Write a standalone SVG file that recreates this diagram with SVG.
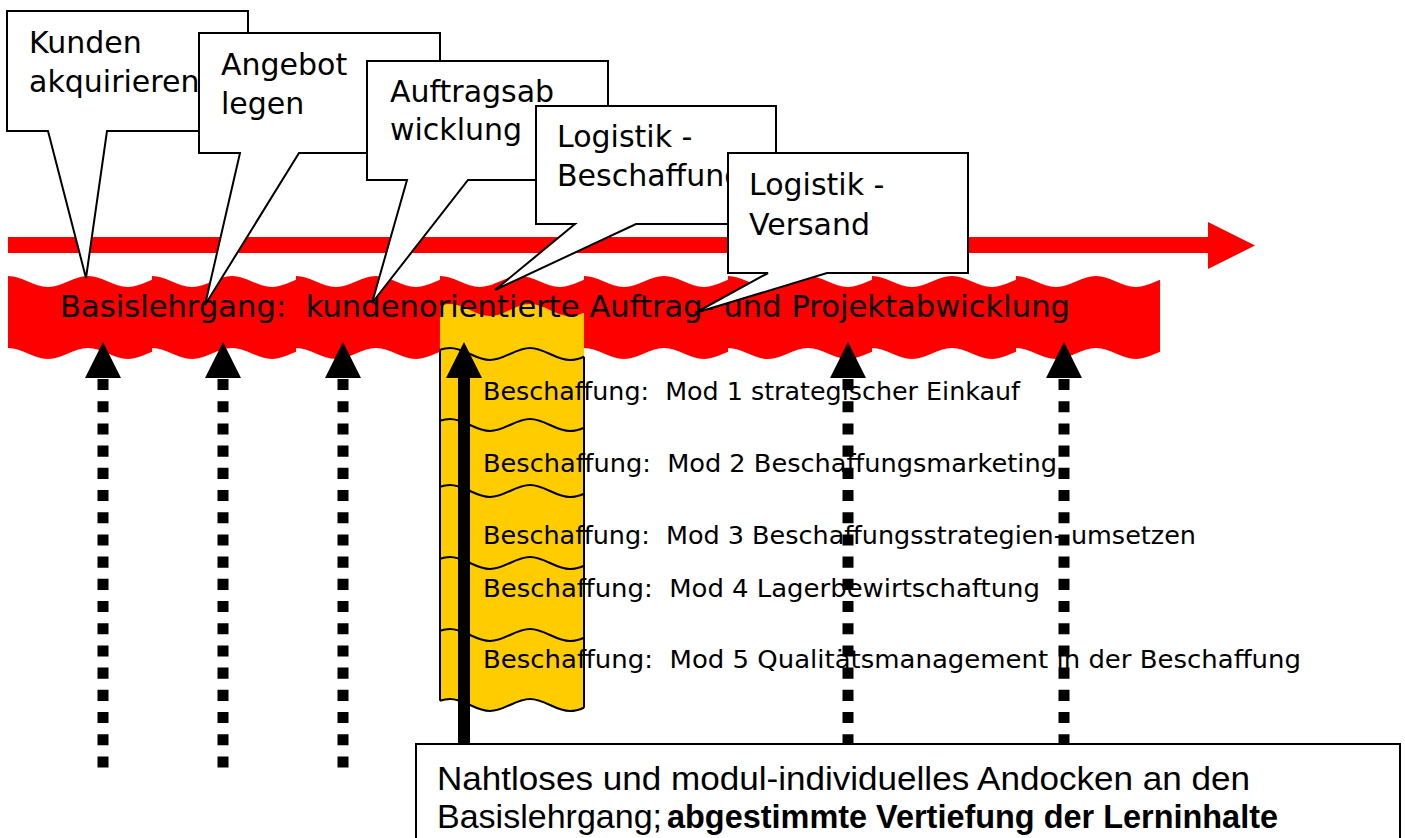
<svg xmlns="http://www.w3.org/2000/svg" width="1405" height="838" viewBox="0 0 1405 838">
  <style>
    .band { fill: #FF0000; }
    .lbl { font-family: "DejaVu Sans", sans-serif; fill: #000; white-space: pre; }
    .call { fill: #FFFFFF; stroke: #000; stroke-width: 2; stroke-linejoin: miter; }
    .callTxt { font-size: 30px; }
    .modTxt { font-size: 25px; }
    .modLine { fill: none; stroke: #000; stroke-width: 2; }
    .dot { stroke: #000; stroke-width: 11; stroke-dasharray: 11.1 11.1; }
    .head { fill: #000; }
    .note { font-family: "Liberation Sans", Arial, sans-serif; font-size: 34px; fill: #000; }
  </style>
  <defs>
    <!-- one wave tile of the course band -->
    <path id="bandSeg" d="M0,276 C14.5,276 25.5,287 40,287 C54.5,287 65.5,276 80,276 C94.5,276 105.5,287 120,287 C128,287 136,283.1 144,279.8 L144,351.8 C136,355.1 128,359 120,359 C105.5,359 94.5,348 80,348 C65.5,348 54.5,359 40,359 C25.5,359 14.5,348 0,348 Z"/>
    <!-- wavy divider of the module stack -->
    <path id="modWave" d="M440,-4.24 C443.33,-5.35 446.67,-6 450,-6 C464.5,-6 475.5,6 490,6 C504.5,6 515.5,-6 530,-6 C544.5,-6 555.5,6 570,6 C574.67,6 579.33,4.68 584,2.72"/>
  </defs>

  <!-- time arrow -->
  <g id="timeArrow">
    <rect x="8" y="237" width="1201" height="16" fill="#FF0000"/>
    <polygon points="1208,222 1255,245.5 1208,269" fill="#FF0000"/>
  </g>

  <!-- base course band -->
  <g id="baseCourse">
    <use href="#bandSeg" class="band" x="8"/>
    <use href="#bandSeg" class="band" x="152"/>
    <use href="#bandSeg" class="band" x="296"/>
    <use href="#bandSeg" class="band" x="440"/>
    <use href="#bandSeg" class="band" x="584"/>
    <use href="#bandSeg" class="band" x="728"/>
    <use href="#bandSeg" class="band" x="872"/>
    <use href="#bandSeg" class="band" x="1016"/>
  </g>

  <!-- procurement module stack -->
  <g id="moduleStack">
    <path d="M440,305.76 C443.33,304.65 446.67,304 450,304 C464.5,304 475.5,316 490,316 C504.5,316 515.5,304 530,304 C544.5,304 555.5,316 570,316 C574.67,316 579.33,314.68 584,312.72 L584,707.72 C579.33,709.68 574.67,711 570,711 C555.5,711 544.5,699 530,699 C515.5,699 504.5,711 490,711 C475.5,711 464.5,699 450,699 C446.67,699 443.33,699.65 440,700.76 Z" fill="#FFCC00"/>
    <path class="modLine" d="M440,349.76 V700.76 M584,356.72 V707.72"/>
    <use href="#modWave" class="modLine" y="354"/>
    <use href="#modWave" class="modLine" y="425"/>
    <use href="#modWave" class="modLine" y="491"/>
    <use href="#modWave" class="modLine" y="563"/>
    <use href="#modWave" class="modLine" y="635"/>
    <use href="#modWave" class="modLine" y="705"/>
  </g>

  <g id="baseCourseLabel">
    <text class="lbl" x="60" y="317" font-size="30" textLength="1010" lengthAdjust="spacingAndGlyphs">Basislehrgang:  kundenorientierte Auftrag- und Projektabwicklung</text>
  </g>

  <g id="moduleLabels">
    <text class="lbl modTxt" x="483" y="400" textLength="537" lengthAdjust="spacingAndGlyphs">Beschaffung:  Mod 1 strategischer Einkauf</text>
    <text class="lbl modTxt" x="483" y="472" textLength="574" lengthAdjust="spacingAndGlyphs">Beschaffung:  Mod 2 Beschaffungsmarketing</text>
    <text class="lbl modTxt" x="483" y="544" textLength="713" lengthAdjust="spacingAndGlyphs">Beschaffung:  Mod 3 Beschaffungsstrategien- umsetzen</text>
    <text class="lbl modTxt" x="483" y="597" textLength="557" lengthAdjust="spacingAndGlyphs">Beschaffung:  Mod 4 Lagerbewirtschaftung</text>
    <text class="lbl modTxt" x="483" y="668" textLength="818" lengthAdjust="spacingAndGlyphs">Beschaffung:  Mod 5 Qualitätsmanagement in der Beschaffung</text>
  </g>

  <!-- docking arrows -->
  <g id="connectors">
    <line class="dot" x1="103" y1="379" x2="103" y2="772"/>
    <polygon class="head" points="103,342 121,378 85,378"/>
    <line class="dot" x1="223" y1="379" x2="223" y2="772"/>
    <polygon class="head" points="223,342 241,378 205,378"/>
    <line class="dot" x1="343" y1="379" x2="343" y2="772"/>
    <polygon class="head" points="343,342 361,378 325,378"/>
    <line class="dot" x1="848" y1="379" x2="848" y2="772"/>
    <polygon class="head" points="848,342 866,378 830,378"/>
    <line class="dot" x1="1064" y1="379" x2="1064" y2="772"/>
    <polygon class="head" points="1064,342 1082,378 1046,378"/>
    <line x1="464" y1="376" x2="464" y2="746" stroke="#000" stroke-width="12"/>
    <polygon class="head" points="464,342 482,378 446,378"/>
  </g>

  <!-- phase callouts -->
  <g id="callKunden">
    <path class="call" d="M7,11 H248 V131 H107 L86,278 L48,131 H7 Z"/>
    <text class="lbl callTxt" x="29" y="53">Kunden</text>
    <text class="lbl callTxt" x="29" y="92">akquirieren</text>
  </g>
  <g id="callAngebot">
    <path class="call" d="M199,33 H440 V153 H299 L205,305 L240,153 H199 Z"/>
    <text class="lbl callTxt" x="221" y="75">Angebot</text>
    <text class="lbl callTxt" x="221" y="114">legen</text>
  </g>
  <g id="callAuftrag">
    <path class="call" d="M367,61 H608 V180 H468 L372,303 L407,180 H367 Z"/>
    <text class="lbl callTxt" x="390" y="102">Auftragsab</text>
    <text class="lbl callTxt" x="390" y="140">wicklung</text>
  </g>
  <g id="callBeschaffung">
    <path class="call" d="M536,106 H776 V224 H636 L495,290 L575,224 H536 Z"/>
    <text class="lbl callTxt" x="557" y="147">Logistik -</text>
    <text class="lbl callTxt" x="557" y="186">Beschaffung</text>
  </g>
  <g id="callVersand">
    <path class="call" d="M728,153 H968 V273 H827 L695,313 L768,273 H728 Z"/>
    <text class="lbl callTxt" x="749" y="195">Logistik -</text>
    <text class="lbl callTxt" x="749" y="235">Versand</text>
  </g>

  <!-- summary box -->
  <g id="summary">
    <rect x="416" y="744" width="984" height="120" fill="#FFFFFF" stroke="#000" stroke-width="2"/>
    <text class="note" x="437" y="790" textLength="813" lengthAdjust="spacingAndGlyphs">Nahtloses und modul-individuelles Andocken an den</text>
    <text class="note" x="437" y="828" textLength="225" lengthAdjust="spacingAndGlyphs">Basislehrgang;</text>
    <text class="note" x="667" y="828" font-weight="bold" textLength="611" lengthAdjust="spacingAndGlyphs">abgestimmte Vertiefung der Lerninhalte</text>
  </g>
</svg>
